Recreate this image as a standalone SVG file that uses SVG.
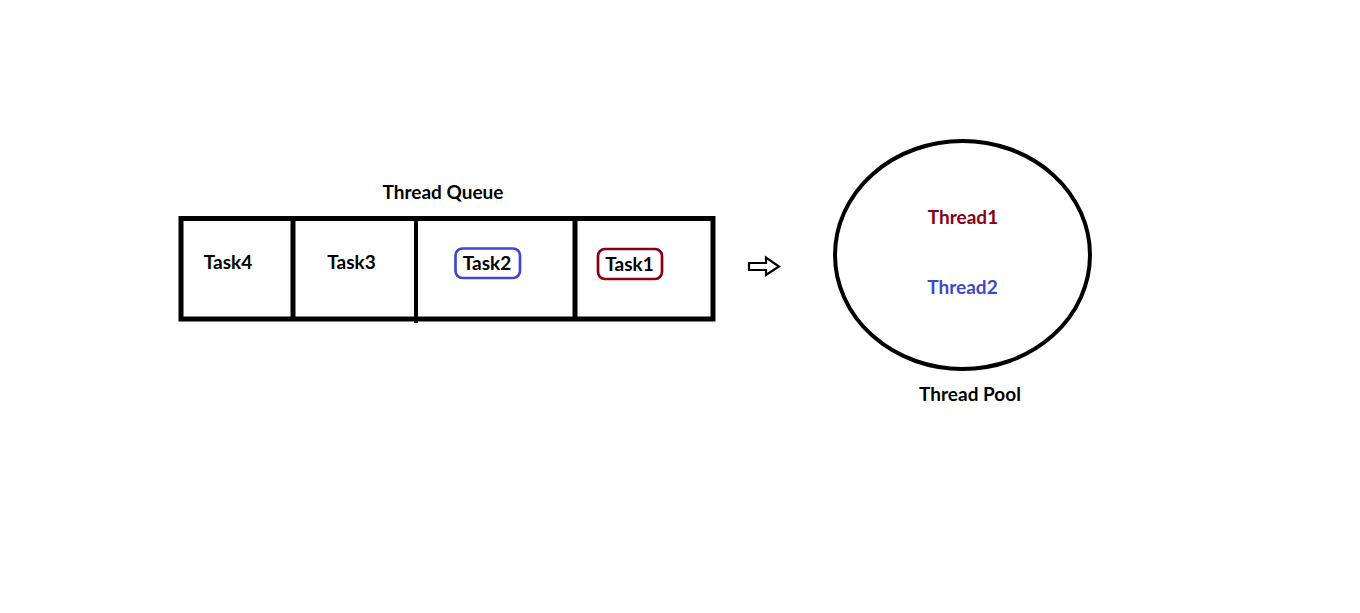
<svg xmlns="http://www.w3.org/2000/svg" width="1360" height="613" viewBox="0 0 1360 613">
  <style>
    .lbl { font-family: Lato, "Liberation Sans", Arial, sans-serif; font-weight: bold; font-size: 19px; text-anchor: middle; fill: #000; }
    .red { fill: #880015; }
    .blue { fill: #3f48cc; }
    .frame { fill: none; stroke: #000; stroke-width: 5; }
  </style>
  <rect width="1360" height="613" fill="#fff"/>
  <g id="queue">
    <text class="lbl" x="443" y="199">Thread Queue</text>
    <rect class="frame" x="181" y="218.5" width="532" height="100.5"/>
    <line x1="293" y1="218.5" x2="293" y2="319" stroke="#000" stroke-width="5"/>
    <line x1="416" y1="218.5" x2="416" y2="323" stroke="#000" stroke-width="4"/>
    <line x1="575" y1="218.5" x2="575" y2="319" stroke="#000" stroke-width="5"/>
  </g>
  <g id="task4">
    <text class="lbl" x="228" y="269">Task4</text>
  </g>
  <g id="task3">
    <text class="lbl" x="351.5" y="269">Task3</text>
  </g>
  <g id="task2">
    <rect x="455.5" y="248.5" width="64.5" height="29.5" rx="7" fill="none" stroke="#3f48cc" stroke-width="2.7"/>
    <text class="lbl" x="487" y="270">Task2</text>
  </g>
  <g id="task1">
    <rect x="598" y="249" width="64" height="30" rx="7" fill="none" stroke="#880015" stroke-width="2.7"/>
    <text class="lbl" x="629.5" y="271">Task1</text>
  </g>
  <g id="connectors">
    <path d="M749 263 H766 V257.5 L779 266.5 L766 275 V270 H749 Z" fill="#fff" stroke="#000" stroke-width="2.2" stroke-linejoin="miter"/>
  </g>
  <g id="pool">
    <ellipse cx="962.5" cy="255" rx="127.5" ry="114" fill="none" stroke="#000" stroke-width="4"/>
    <text class="lbl" x="970" y="401">Thread Pool</text>
  </g>
  <g id="thread1">
    <text class="lbl red" x="963" y="224">Thread1</text>
  </g>
  <g id="thread2">
    <text class="lbl blue" x="962.5" y="294">Thread2</text>
  </g>
</svg>
